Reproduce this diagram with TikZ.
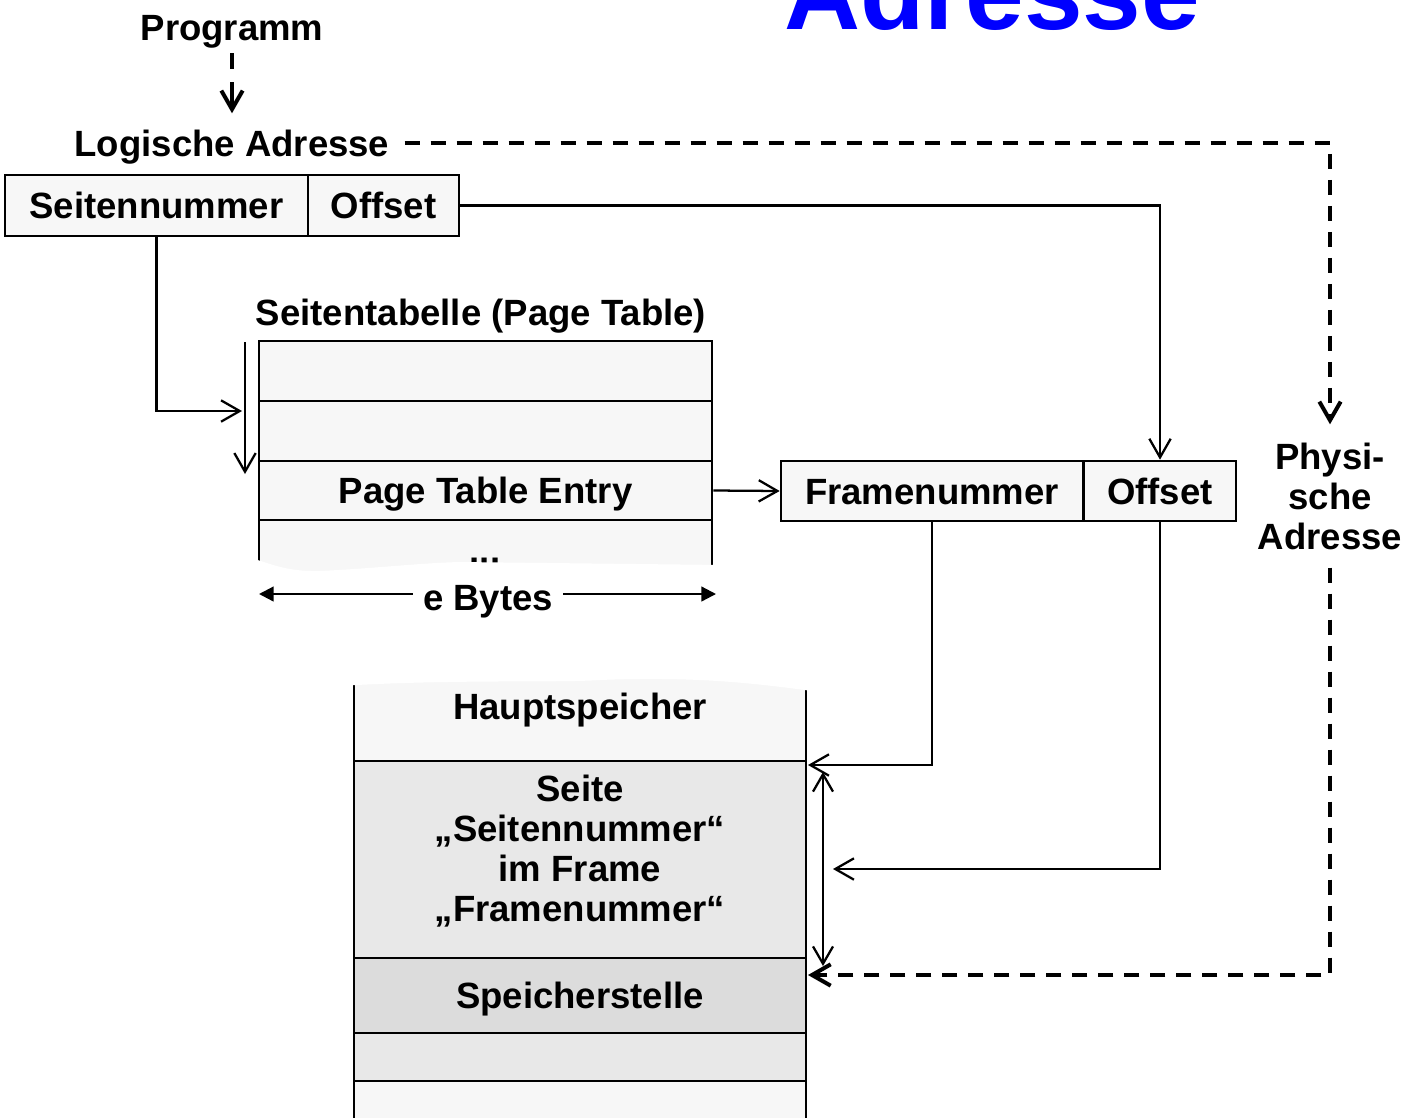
\documentclass[tikz,border=0pt]{standalone}
\usepackage{fontspec}
\setmainfont{Liberation Sans}
\usetikzlibrary{arrows.meta}
\definecolor{paper}{HTML}{F7F7F7}
\definecolor{pagegray}{HTML}{E8E8E8}
\definecolor{cellgray}{HTML}{DCDCDC}
\definecolor{titleblue}{RGB}{0,0,255}

\begin{document}
\begin{tikzpicture}[x=0.75pt,y=-0.75pt,
  every node/.style={font=\bfseries\fontsize{27.4}{30}\selectfont, inner sep=0pt},
  wh/.style 2 args={minimum width=#1*0.75pt, minimum height=#2*0.75pt},
  cellbox/.style={draw, line width=2pt, fill=paper, text height=19.6pt, text depth=0pt},
  conn/.style={line width=1.7pt},
  tip/.style={-{Straight Barb[length=14pt,width=16pt]}},
  twotip/.style={{Straight Barb[length=13pt,width=15pt]}-{Straight Barb[length=13pt,width=15pt]}},
  filledtip/.style={-{Triangle[length=11pt,width=11pt]}},
  dashline/.style={line width=3pt, dash pattern=on 11.5pt off 8pt}
]
\path[use as bounding box] (0,0) rectangle (1412,1117);
\clip (0,0) rectangle (1412,1117);

% heading
\node[anchor=base, text=titleblue, font=\bfseries\fontsize{79}{80}\selectfont] (title) at (992,29) {Adresse};

% program and logical address
\node[anchor=base] (prog) at (232,40) {Programm};
\node[anchor=base] (logadr) at (232,156) {Logische Adresse};
\node[cellbox, wh={303}{61}] (sn) at (156.5,205.5) {Seitennummer};
\node[cellbox, wh={151}{61}] (off1) at (383.5,205.5) {Offset};

% page table
\node[anchor=base] (pttitle) at (481,325) {Seitentabelle (Page Table)};
\node[cellbox, wh={453}{60}] (pt1) at (485.5,371) {};
\node[cellbox, wh={453}{60}] (pt2) at (485.5,431) {};
\node[cellbox, wh={453}{59}] (pte) at (485.5,490.5) {Page Table Entry};
\node[cellbox, wh={453}{60}] (pt4) at (485.5,550) {};
\node[anchor=base] (dots) at (485,563) {...};
% torn lower edge of the table
\fill[white] (245,557) .. controls (265,560) and (280,572) .. (320,571)
  .. controls (380,568) and (420,563) .. (460,562) -- (725,565) -- (725,585) -- (245,585) -- cycle;

% byte width of an entry
\node[anchor=base, text depth=0pt] (eb) at (488,610) {e Bytes};
\coordinate (ebl) at (259,594);
\coordinate (ebr) at (716,594);
\draw[conn, filledtip, shorten <=7.5pt] (eb.west |- ebl) -- (ebl);
\draw[conn, filledtip, shorten <=7.5pt] (eb.east |- ebr) -- (ebr);

% physical address
\node[cellbox, wh={302}{60}] (fn) at (932,491) {Framenummer};
\node[cellbox, wh={152}{60}] (off2) at (1160,491) {Offset};
\node[align=center, inner sep=13.5pt] (phys) at (1330,496) {Physi-\\sche\\Adresse};

% main memory
\node[cellbox, fill=paper, wh={452}{86}] (hs) at (580,718) {};
\node[cellbox, fill=pagegray, wh={452}{197}] (seite) at (580,859.5) {};
\node[cellbox, fill=cellgray, wh={452}{75}] (spst) at (580,995.5) {Speicherstelle};
\node[cellbox, fill=pagegray, wh={452}{48}] (m4) at (580,1057) {};
\node[cellbox, fill=paper, wh={452}{59}] (m5) at (580,1110.5) {};
% torn upper edge of the memory
\fill[white] (340,640) -- (340,686) .. controls (450,679) and (560,683) .. (600,680)
  .. controls (700,676) and (760,684) .. (820,692) -- (820,640) -- cycle;
\node[anchor=base] (hstext) at (580,719) {Hauptspeicher};
\node[align=center] (seitetext) at (580,851) {Seite\\„Seitennummer“\\im Frame\\„Framenummer“};

% connectors
\coordinate (ptin) at (242,411);
\coordinate (idxtop) at (245,342);
\coordinate (idxbot) at (245,474);
\coordinate (frin) at (808,765);
\coordinate (offin) at (833,869);
\coordinate (pgtop) at (823,772);
\coordinate (pgbot) at (823,966);
\coordinate (physin) at (808,975);

\draw[dashline, tip, shorten <=4pt, shorten >=12pt, dash pattern=on 12pt off 9.75pt on 40pt off 5pt] (prog.south) -- (logadr.north);
\draw[dashline, tip, shorten <=11.25pt] ([yshift=2.6pt]logadr.east) -- ([yshift=2.6pt]logadr.east -| phys.north) -- (phys.north);
\draw[dashline, tip] (phys.south) |- (physin);

\draw[conn, tip] (sn.south) |- (ptin);
\draw[conn, tip] (idxtop) -- (idxbot);
\draw[conn, tip] (off1.east) -| (off2.north);
\draw[conn, tip] (pte.east) -- (fn.west);
\draw[conn, tip] (fn.south) |- (frin);
\draw[conn, tip] (off2.south) |- (offin);
\draw[conn, twotip] (pgtop) -- (pgbot);
\end{tikzpicture}
\end{document}
